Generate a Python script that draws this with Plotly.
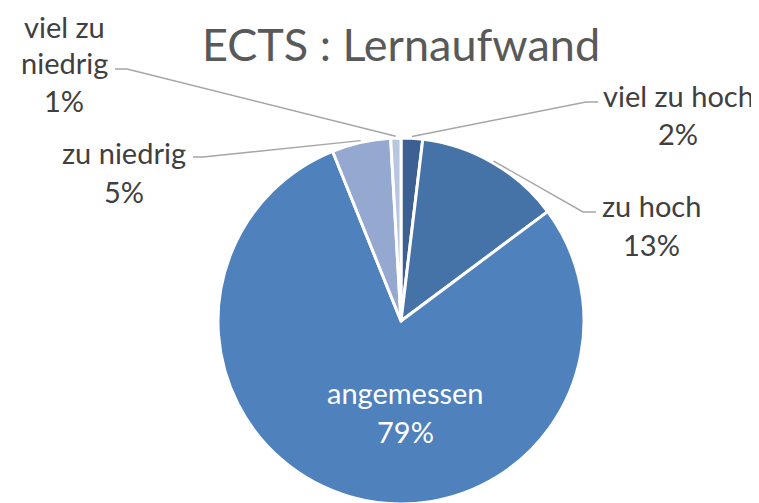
import math
import plotly.graph_objects as go

W, H = 759, 503
OFF = 8  # page body margin around the plot div

labels = ["viel zu hoch", "zu hoch", "angemessen", "zu niedrig", "viel zu niedrig"]
values = [1.9, 12.9, 79.1, 5.2, 0.9]
colors = ["#3C6091", "#4573A7", "#4F81BD", "#95A9D0", "#B9C6E0"]
label_lines = [["viel zu hoch"], ["zu hoch"], ["angemessen"], ["zu niedrig"], ["viel zu", "niedrig"]]

# pie geometry in page pixels
cx, cy, r = 401, 321, 183


def px(x):
    return (x - OFF) / W


def py(y):
    return 1 - (y - OFF) / H


fig = go.Figure(go.Pie(
    labels=labels, values=values, sort=False, direction="clockwise",
    marker=dict(colors=colors, line=dict(color="white", width=3)),
    textinfo="none", hoverinfo="label+percent", showlegend=False,
    domain=dict(x=[px(cx - r), px(cx + r)], y=[py(cy + r), py(cy - r)]),
))

# label placement: text centre x, first line y, line step, elbow point, elbow end
placement = {
    "viel zu hoch": dict(x=678, y=95, step=39, elbow=(586, 102), end=(598, 102), color="#404040"),
    "zu hoch": dict(x=651, y=205, step=39, elbow=(583, 212), end=(596, 212), color="#404040"),
    "angemessen": dict(x=405, y=392, step=39, elbow=None, end=None, color="white"),
    "zu niedrig": dict(x=124, y=152, step=39, elbow=(203, 157), end=(193, 157), color="#404040"),
    "viel zu niedrig": dict(x=64, y=26, step=37, elbow=(127, 69), end=(115, 69), color="#404040"),
}

total = sum(values)
cum = 0
for lab, v, lines in zip(labels, values, label_lines):
    mid = (cum + v / 2) / total * 2 * math.pi
    cum += v
    p = placement[lab]
    texts = lines + [f"{round(v / total * 100)}%"]
    for i, t in enumerate(texts):
        fig.add_annotation(x=px(p["x"]), y=py(p["y"] + i * p["step"]), xref="paper", yref="paper",
                           text=t, showarrow=False, xanchor="center", yanchor="middle", borderpad=0,
                           font=dict(family="Lato", size=29, color=p["color"]))
    if p["elbow"]:
        sx = cx + r * 1.01 * math.sin(mid)
        sy = cy - r * 1.01 * math.cos(mid)
        ex, ey = p["elbow"]
        fx, fy = p["end"]
        fig.add_shape(type="path", xref="paper", yref="paper",
                      path=f"M {px(sx)} {py(sy)} L {px(ex)} {py(ey)} L {px(fx)} {py(fy)}",
                      line=dict(color="#A6A6A6", width=1.5))

fig.update_layout(
    width=W, height=H, margin=dict(l=0, r=0, t=0, b=0),
    paper_bgcolor="white", plot_bgcolor="white",
    title=dict(text="ECTS : Lernaufwand", x=px(401), y=py(45), xanchor="center", yanchor="middle",
               font=dict(family="Lato", size=45, color="#595959")),
)

fig.write_html("out.html")
